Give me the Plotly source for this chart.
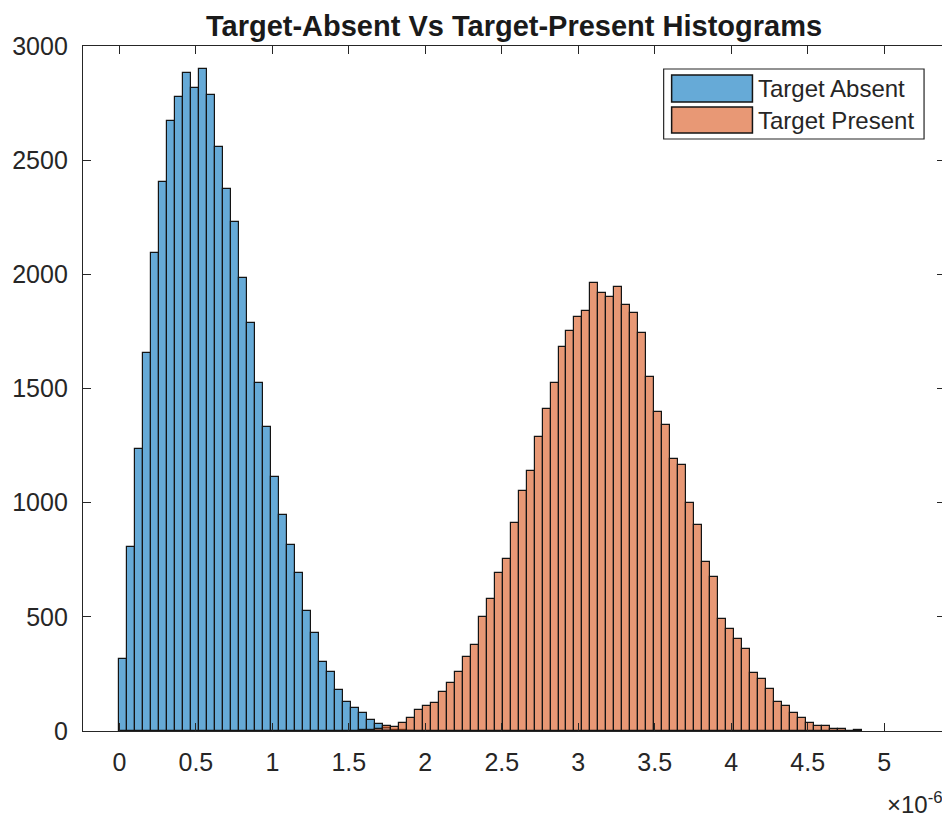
import plotly.graph_objects as go

# ---- data ----
BIN_WIDTH = 0.0522e-6          # histogram bin width (s)
ABSENT_FIRST_BIN = 0           # bin index of first Target Absent bar
PRESENT_FIRST_BIN = 30         # bin index of first Target Present bar

absent_counts = [314, 805, 1234, 1654, 2092, 2406, 2672, 2775, 2880, 2817,
                 2898, 2784, 2556, 2372, 2231, 1985, 1786, 1523, 1333, 1114,
                 946, 815, 691, 526, 428, 304, 260, 180, 128, 99,
                 78, 48, 31, 12, 6, 3, 1]

present_counts = [3, 5, 8, 22, 19, 34, 56, 92, 109, 121,
                  172, 209, 260, 323, 377, 498, 577, 691, 752, 910,
                  1051, 1139, 1289, 1409, 1523, 1680, 1752, 1812, 1839, 1961,
                  1917, 1899, 1943, 1866, 1829, 1742, 1549, 1398, 1340, 1190,
                  1165, 997, 902, 741, 673, 491, 445, 402, 358, 253,
                  226, 183, 129, 111, 77, 58, 34, 23, 22, 9,
                  7, 0, 4]

series_names = ["Target Absent", "Target Present"]
x_tick_values = [0, 0.5, 1, 1.5, 2, 2.5, 3, 3.5, 4, 4.5, 5]   # in units of 1e-6
x_tick_labels = ["0", "0.5", "1", "1.5", "2", "2.5", "3", "3.5", "4", "4.5", "5"]
y_tick_values = [0, 500, 1000, 1500, 2000, 2500, 3000]
X_SCALE = 1e-6

# ---- styles ----
FONT = "Liberation Sans, Arial, Helvetica, sans-serif"
AXIS_COLOR = "#262626"
BLUE_FILL = "rgba(0,114,189,0.6)"
ORANGE_FILL = "rgba(217,83,25,0.6)"
EDGE = "#141414"

# figure geometry (page has an 8px body margin)
FIG_W, FIG_H = 942, 810
M_L, M_R, M_T, M_B = 74, 4, 38, 87
PLOT_W = FIG_W - M_L - M_R
PLOT_H = FIG_H - M_T - M_B


def centers(first_bin, counts):
    return [(first_bin + i + 0.5) * BIN_WIDTH for i in range(len(counts))]


fig = go.Figure()
fig.add_trace(go.Bar(
    x=centers(ABSENT_FIRST_BIN, absent_counts), y=absent_counts,
    width=BIN_WIDTH, name=series_names[0],
    marker=dict(color=BLUE_FILL, line=dict(color=EDGE, width=1.2)),
    showlegend=False,
))
fig.add_trace(go.Bar(
    x=centers(PRESENT_FIRST_BIN, present_counts), y=present_counts,
    width=BIN_WIDTH, name=series_names[1],
    marker=dict(color=ORANGE_FILL, line=dict(color=EDGE, width=1.2)),
    showlegend=False,
))

fig.update_layout(
    width=FIG_W, height=FIG_H,
    margin=dict(l=M_L, r=M_R, t=M_T, b=M_B, pad=0),
    barmode="overlay", bargap=0,
    paper_bgcolor="white", plot_bgcolor="white",
    font=dict(family=FONT, color=AXIS_COLOR),
    title=dict(text="<b>Target-Absent Vs Target-Present Histograms</b>",
               x=0.5, xref="paper", xanchor="center",
               y=1 - 18 / FIG_H, yref="container", yanchor="middle",
               font=dict(family=FONT, size=29, color="#1a1a1a")),
)

fig.update_xaxes(
    range=[-0.238e-6, 5.398e-6],
    tickvals=[v * X_SCALE for v in x_tick_values], ticktext=x_tick_labels,
    ticks="inside", ticklen=8, tickwidth=1.2, tickcolor=AXIS_COLOR,
    showline=True, linecolor=AXIS_COLOR, linewidth=1.3, mirror="ticks",
    showgrid=False, zeroline=False,
    tickfont=dict(family=FONT, size=25, color=AXIS_COLOR),
    ticklabelstandoff=9,
)
fig.update_yaxes(
    range=[0, 3000], tickvals=y_tick_values,
    ticks="inside", ticklen=8, tickwidth=1.2, tickcolor=AXIS_COLOR,
    showline=True, linecolor=AXIS_COLOR, linewidth=1.3, mirror="ticks",
    showgrid=False, zeroline=False,
    tickfont=dict(family=FONT, size=25, color=AXIS_COLOR),
    ticklabelstandoff=9,
)

# exponent label for x axis
fig.add_annotation(
    text="×10<sup>-6</sup>", xref="paper", yref="paper",
    x=1.0, y=-0.105, xanchor="right", yanchor="middle", showarrow=False,
    font=dict(family=FONT, size=24, color=AXIS_COLOR),
)


# legend drawn MATLAB-style (wide swatches); positions in page pixels
def px_x(p):
    return (p - 8 - M_L) / PLOT_W


def px_y(p):
    return (M_T + PLOT_H - (p - 8)) / PLOT_H


fig.add_shape(type="rect", xref="paper", yref="paper",
              x0=px_x(664), x1=px_x(925), y0=px_y(139), y1=px_y(69),
              fillcolor="white", line=dict(color=AXIS_COLOR, width=1.2), layer="above")
legend_rows = [(series_names[0], BLUE_FILL, 75, 102, 88),
               (series_names[1], ORANGE_FILL, 107, 133, 120)]
for name, fill, top, bottom, mid in legend_rows:
    fig.add_shape(type="rect", xref="paper", yref="paper",
                  x0=px_x(672), x1=px_x(753), y0=px_y(bottom), y1=px_y(top),
                  fillcolor=fill, line=dict(color=EDGE, width=1.5), layer="above")
    fig.add_annotation(text=name, xref="paper", yref="paper",
                       x=px_x(757), y=px_y(mid), xanchor="left", yanchor="middle",
                       showarrow=False,
                       font=dict(family=FONT, size=24, color=AXIS_COLOR))

fig.write_html("out.html")
